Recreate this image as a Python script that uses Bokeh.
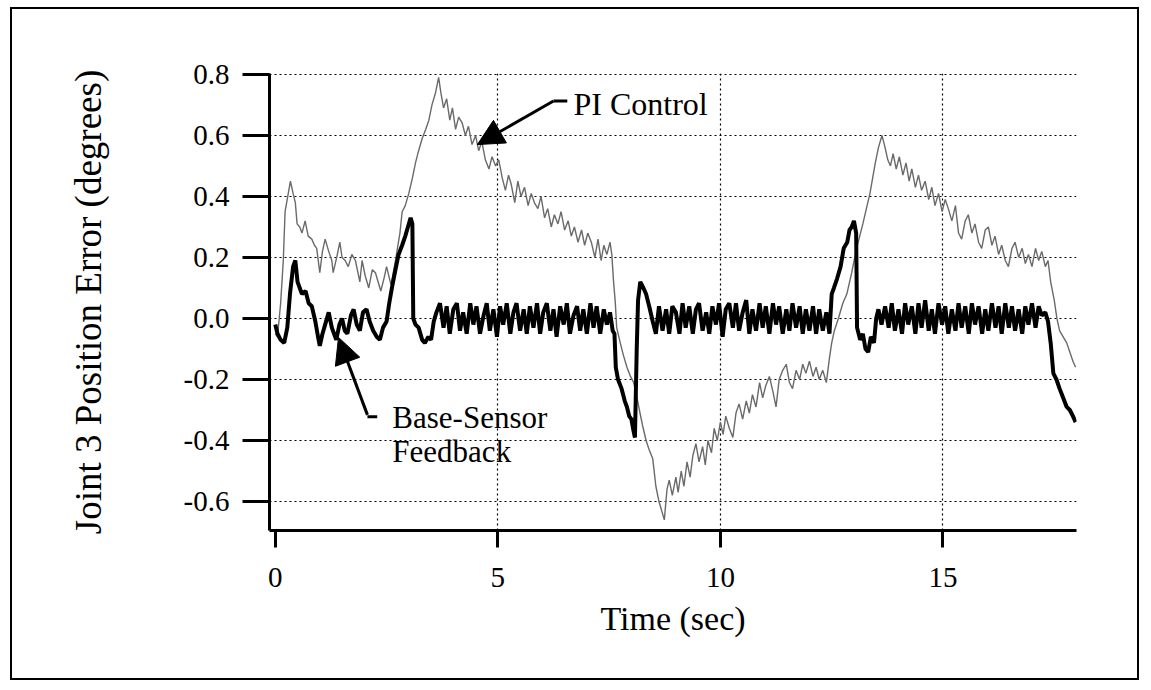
from bokeh.plotting import figure
from bokeh.models import Range1d, FixedTicker, PrintfTickFormatter, Label, Arrow, NormalHead
from bokeh.embed import file_html
from bokeh.resources import INLINE

# ---------------- data ----------------
x_ticks = [0, 5, 10, 15]
y_ticks = [-0.6, -0.4, -0.2, 0.0, 0.2, 0.4, 0.6, 0.8]

pi_time = [
    0.0, 0.05, 0.12, 0.18, 0.22, 0.28, 0.34, 0.40, 0.45, 0.49, 0.55, 0.60, 0.67, 0.74, 0.82, 0.88, 0.93, 1.0,
    1.06, 1.12, 1.2, 1.27, 1.3, 1.38, 1.45, 1.5, 1.57, 1.64, 1.72, 1.8, 1.9, 1.95, 2.02, 2.1, 2.18, 2.25,
    2.37, 2.44, 2.5, 2.6, 2.7,
    2.8, 2.85, 2.92, 3.0, 3.08, 3.15, 3.22, 3.3, 3.38, 3.45, 3.52, 3.6, 3.67,
    3.72, 3.78, 3.85, 3.92, 3.98, 4.05, 4.12, 4.2, 4.27, 4.34, 4.42, 4.5, 4.57, 4.64, 4.72, 4.8, 4.87, 4.95,
    5.02, 5.1, 5.17, 5.24, 5.3, 5.38, 5.45, 5.52, 5.6, 5.68, 5.75, 5.82, 5.9, 5.97, 6.05, 6.12, 6.2, 6.27,
    6.35, 6.42, 6.5, 6.58, 6.65, 6.72, 6.8, 6.88, 6.95, 7.02, 7.1, 7.18, 7.25, 7.32, 7.38, 7.45, 7.52, 7.56,
    7.6, 7.64, 7.67,
    7.75, 7.82, 7.9, 7.98, 8.05, 8.1, 8.18, 8.25, 8.33, 8.4, 8.48, 8.55, 8.62, 8.68, 8.74,
    8.8, 8.85, 8.92, 9.0, 9.05, 9.12, 9.18, 9.25, 9.32, 9.38, 9.45, 9.52, 9.6, 9.66, 9.72, 9.8, 9.86, 9.93,
    10.0, 10.06, 10.12, 10.2, 10.28, 10.35, 10.42, 10.5, 10.58, 10.65, 10.72, 10.8, 10.88, 10.95, 11.02,
    11.1, 11.18, 11.25, 11.32, 11.4, 11.48, 11.55, 11.62, 11.7, 11.78, 11.85, 11.92, 12.0, 12.08, 12.15,
    12.22, 12.3, 12.38, 12.45, 12.5,
    12.56, 12.65, 12.75, 12.84, 12.95, 13.06, 13.13, 13.2, 13.28, 13.36, 13.42, 13.48, 13.55, 13.63,
    13.7, 13.76, 13.82, 13.88, 13.95, 14.02, 14.1, 14.17, 14.24, 14.3, 14.38, 14.45, 14.52, 14.6, 14.68,
    14.75, 14.82, 14.9, 14.98, 15.05, 15.12, 15.2, 15.28, 15.35, 15.42, 15.5, 15.57, 15.65, 15.72, 15.8,
    15.87, 15.95, 16.02, 16.1, 16.17, 16.25, 16.32, 16.4, 16.47, 16.55, 16.62, 16.7, 16.78, 16.85, 16.92,
    17.0, 17.08, 17.15, 17.22, 17.3, 17.36,
    17.42, 17.5, 17.56, 17.62, 17.7, 17.78, 17.85, 17.92, 17.98,
]
pi_error = [
    -0.05, -0.06, 0.05, 0.19, 0.35, 0.40, 0.45, 0.41, 0.38, 0.31, 0.30, 0.28, 0.32, 0.27, 0.26, 0.24, 0.23, 0.15,
    0.22, 0.26, 0.22, 0.19, 0.15, 0.20, 0.25, 0.20, 0.19, 0.17, 0.21, 0.19, 0.12, 0.19, 0.14, 0.10, 0.16, 0.15,
    0.09, 0.13, 0.17, 0.11, 0.19,
    0.28, 0.35, 0.37, 0.41, 0.46, 0.51, 0.55, 0.59, 0.62, 0.65, 0.70, 0.74, 0.79,
    0.74, 0.69, 0.72, 0.65, 0.69, 0.62, 0.66, 0.64, 0.60, 0.63, 0.57, 0.60, 0.55, 0.58, 0.52, 0.49, 0.53, 0.50,
    0.52, 0.46, 0.42, 0.47, 0.44, 0.38, 0.45, 0.40, 0.43, 0.37, 0.41, 0.38, 0.36, 0.40, 0.33, 0.36, 0.30, 0.34,
    0.31, 0.35, 0.29, 0.32, 0.27, 0.30, 0.25, 0.29, 0.24, 0.28, 0.25, 0.20, 0.26, 0.19, 0.24, 0.21, 0.25, 0.21,
    0.12, 0.05, -0.03,
    -0.08, -0.12, -0.16, -0.19, -0.21, -0.24, -0.30, -0.35, -0.40, -0.43, -0.46, -0.55, -0.60, -0.63, -0.66,
    -0.56, -0.53, -0.58, -0.52, -0.57, -0.50, -0.55, -0.47, -0.52, -0.45, -0.41, -0.47, -0.42, -0.48, -0.40, -0.44, -0.36, -0.40,
    -0.34, -0.38, -0.32, -0.36, -0.39, -0.31, -0.28, -0.33, -0.27, -0.31, -0.25, -0.29, -0.21, -0.26, -0.22,
    -0.19, -0.24, -0.29, -0.20, -0.17, -0.15, -0.21, -0.23, -0.17, -0.20, -0.15, -0.18, -0.14, -0.19, -0.16,
    -0.20, -0.17, -0.21, -0.13, -0.08,
    -0.04, 0.0, 0.05, 0.08, 0.15, 0.23, 0.27, 0.31, 0.36, 0.41, 0.46, 0.51, 0.56, 0.60,
    0.56, 0.52, 0.50, 0.54, 0.49, 0.53, 0.47, 0.51, 0.45, 0.49, 0.43, 0.47, 0.42, 0.45, 0.39,
    0.43, 0.37, 0.41, 0.35, 0.39, 0.36, 0.32, 0.37, 0.28, 0.26, 0.32, 0.34, 0.28, 0.31, 0.25,
    0.23, 0.29, 0.30, 0.24, 0.27, 0.21, 0.24, 0.19, 0.17, 0.23, 0.25, 0.20, 0.23, 0.18, 0.21,
    0.17, 0.23, 0.19, 0.22, 0.17, 0.19,
    0.12, 0.06, 0.0, -0.04, -0.06, -0.08, -0.11, -0.14, -0.16,
]

bs_time = [
    0.0, 0.05, 0.12, 0.2, 0.27, 0.33, 0.4, 0.45, 0.5, 0.55, 0.6, 0.68, 0.75, 0.82, 0.9, 0.96, 1.0, 1.06, 1.12,
    1.2, 1.27, 1.32, 1.37, 1.44, 1.5, 1.56, 1.62, 1.7, 1.76, 1.83, 1.9, 1.97, 2.05, 2.12, 2.2, 2.28, 2.35,
    2.42, 2.5, 2.56, 2.62, 2.7, 2.77, 2.85, 2.92, 2.98, 3.04, 3.08, 3.1, 3.15, 3.22, 3.3, 3.36, 3.44, 3.5,
    3.56, 3.62,
    3.7, 3.78, 3.85, 3.92, 4.0, 4.08, 4.15, 4.22, 4.3, 4.38, 4.45, 4.52, 4.6, 4.68, 4.75, 4.82, 4.9, 4.98,
    5.05, 5.12, 5.2, 5.28, 5.35, 5.42, 5.5, 5.58, 5.65, 5.72, 5.8, 5.88, 5.95, 6.02, 6.1, 6.18, 6.25, 6.32,
    6.4, 6.48, 6.55, 6.62, 6.7, 6.78, 6.85, 6.92, 7.0, 7.08, 7.15, 7.22, 7.3, 7.38, 7.45, 7.52, 7.58, 7.62,
    7.65, 7.7, 7.78, 7.85, 7.9, 7.95, 8.0, 8.05, 8.08, 8.12, 8.15, 8.2, 8.27, 8.33, 8.4, 8.48, 8.55,
    8.62, 8.7, 8.78, 8.85, 8.92, 9.0, 9.08, 9.15, 9.22, 9.3, 9.38, 9.45, 9.52, 9.6, 9.68, 9.75, 9.82, 9.9,
    9.97, 10.05, 10.12, 10.2, 10.28, 10.35, 10.42, 10.5, 10.58, 10.65, 10.72, 10.8, 10.88, 10.95, 11.02,
    11.1, 11.18, 11.25, 11.32, 11.4, 11.48, 11.55, 11.62, 11.7, 11.78, 11.85, 11.92, 12.0, 12.08, 12.15,
    12.22, 12.3, 12.38, 12.45,
    12.5, 12.55, 12.62, 12.7, 12.77, 12.85, 12.9, 12.95, 13.0, 13.05, 13.07, 13.14, 13.2, 13.26, 13.32,
    13.38, 13.45, 13.5, 13.55,
    13.62, 13.7, 13.78, 13.85, 13.92, 14.0, 14.08, 14.15, 14.22, 14.3, 14.38, 14.45, 14.52, 14.6, 14.68,
    14.75, 14.82, 14.9, 14.98, 15.05, 15.12, 15.2, 15.28, 15.35, 15.42, 15.5, 15.58, 15.65, 15.72, 15.8,
    15.88, 15.95, 16.02, 16.1, 16.18, 16.25, 16.32, 16.4, 16.48, 16.55, 16.62, 16.7, 16.78, 16.85, 16.92,
    17.0, 17.08, 17.15, 17.22, 17.3, 17.36, 17.42,
    17.48, 17.55, 17.62, 17.7, 17.78, 17.85, 17.92, 17.98,
]
bs_error = [
    -0.02, -0.05, -0.07, -0.08, -0.03, 0.08, 0.17, 0.19, 0.12, 0.10, 0.08, 0.09, 0.05, 0.04, -0.01, -0.06, -0.09, -0.05, -0.02,
    0.02, -0.03, -0.05, -0.07, -0.02, 0.0, -0.04, -0.05, 0.01, 0.03, -0.02, -0.04, 0.02, 0.03, -0.01, -0.04, -0.06, -0.07,
    -0.03, -0.01, 0.05, 0.10, 0.16, 0.21, 0.24, 0.27, 0.30, 0.33, 0.31, 0.0, -0.02, -0.03, -0.07, -0.08, -0.06, -0.07,
    -0.01, 0.02,
    0.05, -0.03, 0.04, -0.05, 0.03, 0.05, -0.04, 0.02, -0.05, 0.05, -0.02, 0.04, -0.05, 0.01, 0.05, -0.04, 0.03, -0.06,
    0.04, -0.02, 0.05, -0.05, 0.02, 0.05, -0.04, 0.03, -0.05, 0.04, -0.03, 0.05, -0.05, 0.02, 0.05, -0.04, 0.03, -0.06,
    0.04, -0.02, 0.05, -0.05, 0.01, 0.04, -0.04, 0.03, -0.05, 0.05, -0.03, 0.04, -0.05, 0.03, -0.02, 0.02, -0.04, -0.05,
    -0.16, -0.20, -0.23, -0.27, -0.29, -0.32, -0.33, -0.37, -0.39, -0.10, 0.06, 0.12, 0.10, 0.08, 0.04, -0.01, -0.05,
    0.04, -0.04, 0.03, -0.05, 0.04, 0.02, -0.05, 0.05, -0.03, 0.04, -0.05, 0.03, 0.05, -0.04, 0.02, -0.05, 0.04, -0.02,
    0.05, -0.06, 0.03, 0.05, -0.03, 0.05, -0.04, 0.02, 0.06, -0.05, 0.03, -0.04, 0.05, -0.03, 0.04,
    -0.05, 0.05, -0.02, 0.04, -0.05, 0.03, -0.04, 0.05, -0.03, 0.04, -0.05, 0.03, -0.04, 0.04, -0.05,
    0.03, -0.04, 0.02, -0.05,
    0.08, 0.10, 0.13, 0.17, 0.23, 0.25, 0.29, 0.30, 0.32, 0.28, -0.03, -0.07, -0.05, -0.10, -0.11,
    -0.06, -0.08, 0.0, 0.03,
    -0.02, 0.04, -0.03, 0.05, -0.04, 0.03, -0.05, 0.05, -0.02, 0.04, -0.05, 0.05, -0.03, 0.06, -0.04,
    0.03, -0.05, 0.05, -0.02, 0.04, -0.05, 0.03, -0.04, 0.05, -0.03, 0.04, -0.05, 0.05, -0.02, 0.04,
    -0.05, 0.03, -0.04, 0.05, -0.03, 0.04, -0.05, 0.05, -0.03, 0.04, -0.04, 0.03, -0.05, 0.04, -0.02,
    0.05, -0.03, 0.04, 0.01, 0.02, -0.01, -0.08,
    -0.18, -0.20, -0.23, -0.26, -0.29, -0.30, -0.32, -0.34,
]

# ---------------- annotation anchors (data units) ----------------
pi_text_pos = (6.70, 0.702)
pi_elbow = (6.56, 0.713, 6.25, 0.713)
pi_arrow = (6.25, 0.713, 4.54, 0.570)
bs_text_pos1 = (2.63, -0.325)
bs_text_pos2 = (2.63, -0.436)
bs_dash = (2.07, -0.322, 2.29, -0.322)
bs_arrow = (2.07, -0.316, 1.42, -0.062)

SERIF = "Liberation Serif"

p = figure(width=1129, height=673, output_backend="svg", toolbar_location=None,
           x_range=Range1d(-0.13, 18.0), y_range=Range1d(-0.695, 0.803),
           min_border_left=257, min_border_right=65, min_border_top=64, min_border_bottom=152)
p.outline_line_color = None
p.background_fill_color = "white"
p.border_fill_color = "white"
p.styles = {"border": "2px solid black", "position": "relative", "left": "10px", "top": "7px"}

p.xaxis.ticker = FixedTicker(ticks=x_ticks)
p.yaxis.ticker = FixedTicker(ticks=y_ticks)
p.yaxis.formatter = PrintfTickFormatter(format="%.1f")
for ax in p.axis:
    ax.axis_line_width = 3
    ax.axis_line_color = "black"
    ax.major_tick_line_width = 3
    ax.major_tick_line_color = "black"
    ax.major_tick_in = 0
    ax.minor_tick_in = 0
    ax.minor_tick_out = 0
    ax.major_label_text_font = SERIF
    ax.major_label_text_font_size = "29px"
    ax.major_label_text_color = "black"
    ax.axis_label_text_font = SERIF
    ax.axis_label_text_font_style = "normal"
    ax.axis_label_text_color = "black"
p.yaxis.major_tick_out = 27
p.yaxis.major_label_standoff = 13
p.yaxis.axis_label = "Joint 3 Position Error (degrees)"
p.yaxis.axis_label_text_font_size = "37px"
p.yaxis.axis_label_standoff = 72
p.xaxis.major_tick_out = 17
p.xaxis.major_label_standoff = 20
p.xaxis.axis_label = "Time (sec)"
p.xaxis.axis_label_text_font_size = "34px"
p.xaxis.axis_label_standoff = 10

p.xgrid.ticker = FixedTicker(ticks=x_ticks[1:])
p.ygrid.ticker = FixedTicker(ticks=y_ticks)
for g in (p.xgrid, p.ygrid):
    g.grid_line_color = "black"
    g.grid_line_dash = "2 3"
    g.grid_line_width = 1.2

p.line(pi_time, pi_error, line_color="#6a6a6a", line_width=1.4)
p.line(bs_time, bs_error, line_color="black", line_width=4)

# annotations
p.add_layout(Arrow(end=None, x_start=pi_elbow[0], y_start=pi_elbow[1], x_end=pi_elbow[2], y_end=pi_elbow[3],
                   line_width=3, line_color="black"))
p.add_layout(Arrow(end=NormalHead(size=26, fill_color="black", line_color="black"),
                   x_start=pi_arrow[0], y_start=pi_arrow[1], x_end=pi_arrow[2], y_end=pi_arrow[3],
                   line_width=3, line_color="black"))
p.add_layout(Arrow(end=None, x_start=bs_dash[0], y_start=bs_dash[1], x_end=bs_dash[2], y_end=bs_dash[3],
                   line_width=3, line_color="black"))
p.add_layout(Arrow(end=NormalHead(size=26, fill_color="black", line_color="black"),
                   x_start=bs_arrow[0], y_start=bs_arrow[1], x_end=bs_arrow[2], y_end=bs_arrow[3],
                   line_width=3, line_color="black"))

p.add_layout(Label(x=pi_text_pos[0], y=pi_text_pos[1], text="PI Control", text_font=SERIF,
                   text_font_size="32px", text_baseline="alphabetic", text_align="left", text_color="black"))
p.add_layout(Label(x=bs_text_pos1[0], y=bs_text_pos1[1], text="Base-Sensor", text_font=SERIF,
                   text_font_size="31px", text_baseline="alphabetic", text_align="left", text_color="black"))
p.add_layout(Label(x=bs_text_pos2[0], y=bs_text_pos2[1], text="Feedback", text_font=SERIF,
                   text_font_size="31px", text_baseline="alphabetic", text_align="left", text_color="black"))

open("out.html", "w").write(file_html(p, INLINE))
